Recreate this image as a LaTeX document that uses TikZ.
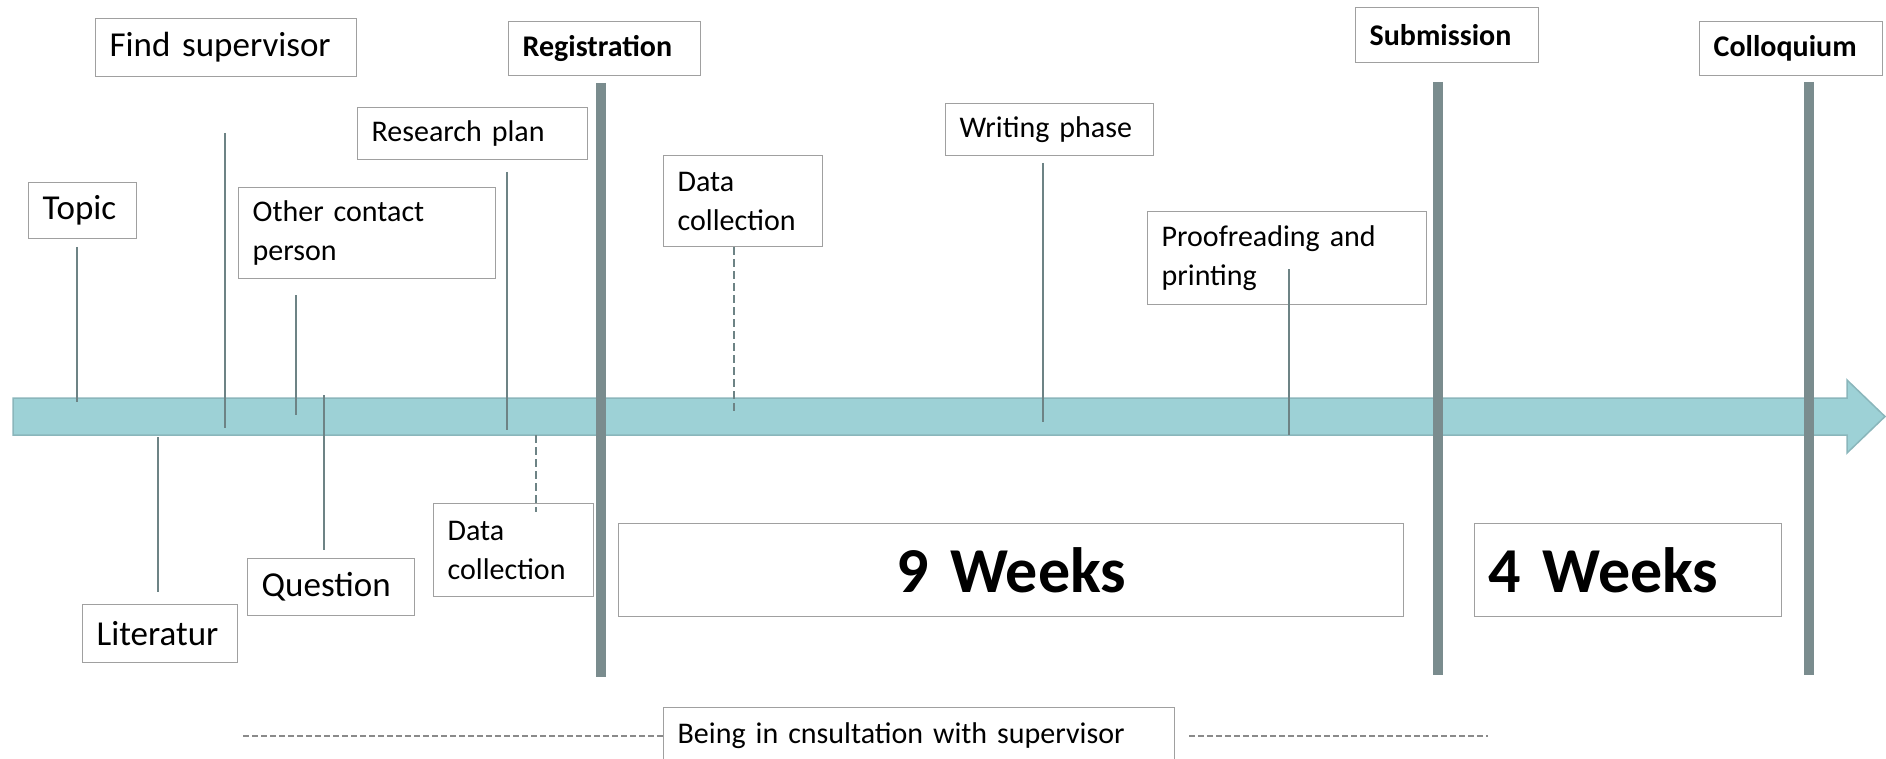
\documentclass[tikz,border=0pt]{standalone}
\usepackage{fontspec}
\setmainfont{Carlito}

\definecolor{stream}{HTML}{9DD1D6}
\definecolor{streamedge}{HTML}{8AB6BB}
\definecolor{milestone}{HTML}{7A8C8E}
\definecolor{tickgray}{HTML}{6D8385}
\definecolor{boxgray}{HTML}{A0A0A0}
\definecolor{dashgray}{HTML}{8A8A8A}

\tikzset{
	lbl/.style={draw=boxgray, fill=white, line width=1.3pt, anchor=north west,
		inner xsep=14pt, inner ysep=0pt, align=left},
	txt/.style={font=\fontsize{30}{39}\selectfont},
	big/.style={font=\fontsize{35}{42}\selectfont},
	head/.style={font=\fontsize{30}{36}\selectfont\bfseries},
	weeks/.style={font=\fontsize{64}{70}\selectfont\bfseries},
	tick/.style={draw=tickgray, line width=2pt},
	bar/.style={draw=milestone, line width=10pt},
}

\begin{document}
\begin{tikzpicture}[x=1pt, y=-1pt]
		\useasboundingbox (0,0) rectangle (1886,759);
		% Time stream with its arrow head
		\draw[fill=stream, draw=streamedge, line width=1.5pt]
			(13,398) -- (1847,398) -- (1847,380) -- (1885,416.5)
			-- (1847,453) -- (1847,435) -- (13,435) -- cycle;
		% Milestones crossing the stream
		\foreach \x/\ya/\yb in {601/83/677, 1438/82/675, 1809/82/675} {
			\draw[bar] (\x,\ya) -- (\x,\yb);
		}
		% Steps above the stream
		\node[lbl, big, text width=80pt, minimum height=56pt] (topic) at (28,182) {Topic};
		\node[lbl, big, text width=233pt, minimum height=58pt] (findsup) at (95,18) {Find supervisor};
		\node[lbl, txt, text width=229pt, minimum height=91pt] (contact) at (238,187) {Other contact\\person};
		\node[lbl, txt, text width=202pt, minimum height=52pt] (plan) at (357,107) {Research plan};
		\node[lbl, txt, text width=131pt, minimum height=91pt] (datatop) at (663,155) {Data\\collection};
		\node[lbl, txt, text width=180pt, minimum height=52pt] (writing) at (945,103) {Writing phase};
		\node[lbl, txt, text width=251pt, minimum height=93pt] (proof) at (1147,211) {Proofreading and\\printing};
		% Milestone labels
		\node[lbl, head, text width=164pt, minimum height=54pt] (regist) at (508,21) {Registration};
		\node[lbl, head, text width=155pt, minimum height=55pt] (submit) at (1355,7) {Submission};
		\node[lbl, head, text width=155pt, minimum height=54pt] (colloq) at (1699,21) {Colloquium};
		% Steps below the stream
		\node[lbl, big, text width=127pt, minimum height=58pt] (lit) at (82,604) {Literatur};
		\node[lbl, big, text width=139pt, minimum height=57pt] (question) at (247,558) {Question};
		\node[lbl, txt, text width=132pt, minimum height=93pt] (databot) at (433,503) {Data\\collection};
		% Durations
		\node[lbl, weeks, align=center, text width=757pt, minimum height=93pt] (nine) at (618,523) {9 Weeks};
		\node[lbl, weeks, text width=279pt, minimum height=93pt] (four) at (1474,523) {4 Weeks};
		\node[lbl, txt, text width=483pt, minimum height=56pt] (consult) at (663,707) {Being in cnsultation with supervisor};
		% Ticks from the steps to the stream
		\foreach \x/\ya/\yb in {77/247/402, 225/133/428, 296/295/415, 324/395/550,
				507/172/430, 158/437/592, 1043/163/422, 1289/269/435} {
			\draw[tick] (\x,\ya) -- (\x,\yb);
		}
		\foreach \x/\ya/\yb in {536/435/512, 734/247/412} {
			\draw[tick, dash pattern=on 8pt off 4pt] (\x,\ya) -- (\x,\yb);
		}
		% Consultation runs along the whole time
		\draw[dashgray, line width=1.5pt, dash pattern=on 6pt off 3pt] (243,736) -- (consult.west |- 0,736);
		\draw[dashgray, line width=1.5pt, dash pattern=on 6pt off 3pt] (consult.east |- 0,736) ++(14,0) -- (1488,736);
		\end{tikzpicture}
\end{document}
